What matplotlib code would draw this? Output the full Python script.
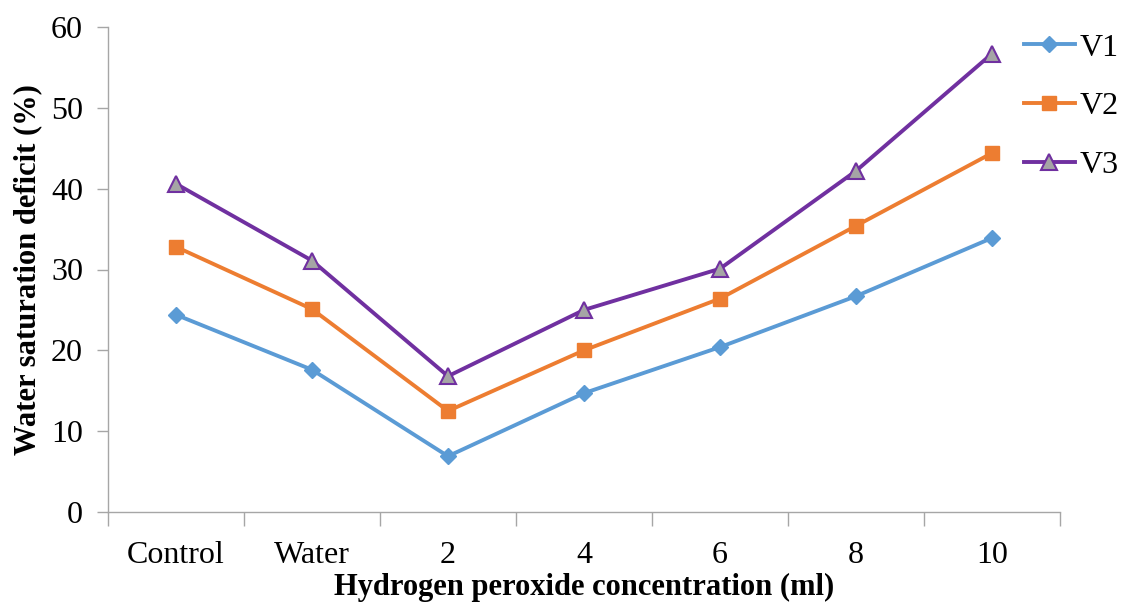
import numpy as np
import matplotlib.pyplot as plt

plt.rcParams['font.family'] = ['Liberation Serif', 'DejaVu Serif']

# Water saturation deficit per treatment
treatments = ["Control", "Water", "2", "4", "6", "8", "10"]
v1 = [24.4, 17.6, 6.9, 14.7, 20.4, 26.7, 33.9]
v2 = [32.8, 25.1, 12.5, 20.0, 26.4, 35.4, 44.4]
v3 = [40.6, 31.1, 16.8, 25.0, 30.1, 42.2, 56.7]

fig = plt.figure(figsize=(11.27, 6.03), dpi=100)
ax = fig.add_axes([108 / 1127, 91 / 603, 952 / 1127, 485 / 603])

x = np.arange(len(treatments))
ax.plot(x, v1, color="#5B9BD5", lw=2.8, marker="D", ms=8,
        mfc="#5B9BD5", mec="#5B9BD5", label="V1")
ax.plot(x, v2, color="#ED7D31", lw=2.8, marker="s", ms=10,
        mfc="#ED7D31", mec="#ED7D31", label="V2")
ax.plot(x, v3, color="#7030A0", lw=2.8, marker="^", ms=11,
        mfc="#A5A5A5", mec="#7030A0", mew=1.5, label="V3")

ax.set_xlim(-0.5, len(treatments) - 0.5)
ax.set_ylim(0, 60)
ax.set_yticks(range(0, 61, 10))

# category labels between boundary tick marks
ax.set_xticks(np.arange(-0.5, len(treatments), 1.0))
ax.set_xticklabels([])
ax.set_xticks(x, minor=True)
ax.set_xticklabels(treatments, minor=True)
ax.tick_params(axis="x", which="major", length=10, width=1, color="#A6A6A6")
ax.tick_params(axis="x", which="minor", length=0, pad=21, labelsize=23)
ax.tick_params(axis="y", length=8, width=1, color="#A6A6A6", labelsize=23, pad=10)

for side in ("top", "right"):
    ax.spines[side].set_visible(False)
for side in ("left", "bottom"):
    ax.spines[side].set_color("#A6A6A6")
    ax.spines[side].set_linewidth(1)

ax.set_xlabel("Hydrogen peroxide concentration (ml)", fontsize=22,
              fontweight="bold", labelpad=2)
ax.set_ylabel("Water saturation deficit (%)", fontsize=22,
              fontweight="bold", labelpad=6)

ax.legend(loc="upper left", bbox_to_anchor=(0.962, 0.987), frameon=False,
          fontsize=23, handlelength=1.6, labelspacing=0.92, handletextpad=0.15,
          borderaxespad=0, borderpad=0)

fig.savefig("out.png", dpi=100)
